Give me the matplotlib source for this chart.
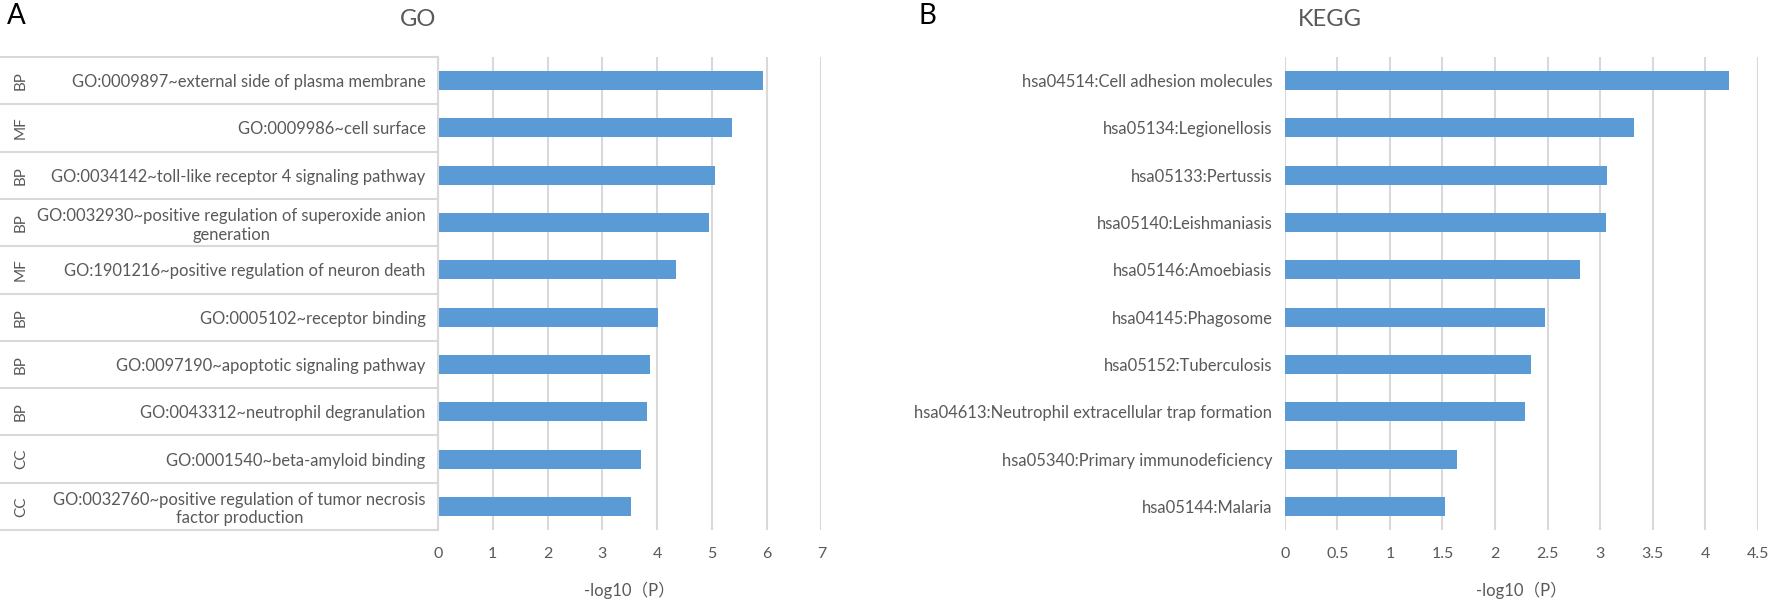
import matplotlib
matplotlib.use("Agg")
import matplotlib.pyplot as plt
from matplotlib.lines import Line2D
from matplotlib.transforms import blended_transform_factory

plt.rcParams["font.family"] = ["Lato", "Noto Sans CJK SC", "DejaVu Sans"]

# GO enrichment terms (top to bottom)
go_terms = [
    "GO:0009897~external side of plasma membrane",
    "GO:0009986~cell surface",
    "GO:0034142~toll-like receptor 4 signaling pathway",
    "GO:0032930~positive regulation of superoxide anion\ngeneration",
    "GO:1901216~positive regulation of neuron death",
    "GO:0005102~receptor binding",
    "GO:0097190~apoptotic signaling pathway",
    "GO:0043312~neutrophil degranulation",
    "GO:0001540~beta-amyloid binding",
    "GO:0032760~positive regulation of tumor necrosis\nfactor production",
]
go_groups = ["BP", "MF", "BP", "BP", "MF", "BP", "BP", "BP", "CC", "CC"]
go_values = [5.94, 5.37, 5.05, 4.95, 4.34, 4.01, 3.88, 3.82, 3.70, 3.53]
go_ticks = [0, 1, 2, 3, 4, 5, 6, 7]

# KEGG pathways (top to bottom)
kegg_terms = [
    "hsa04514:Cell adhesion molecules",
    "hsa05134:Legionellosis",
    "hsa05133:Pertussis",
    "hsa05140:Leishmaniasis",
    "hsa05146:Amoebiasis",
    "hsa04145:Phagosome",
    "hsa05152:Tuberculosis",
    "hsa04613:Neutrophil extracellular trap formation",
    "hsa05340:Primary immunodeficiency",
    "hsa05144:Malaria",
]
kegg_values = [4.23, 3.32, 3.07, 3.06, 2.81, 2.48, 2.34, 2.29, 1.64, 1.52]
kegg_ticks = [0, 0.5, 1, 1.5, 2, 2.5, 3, 3.5, 4, 4.5]
kegg_ticklabels = ["0", "0.5", "1", "1.5", "2", "2.5", "3", "3.5", "4", "4.5"]

_COLORS = {
    "bar": "#5B9BD5",
    "grid": "#D9D9D9",
    "text": "#595959",
}

W, H = 1769, 602
fig = plt.figure(figsize=(W / 100, H / 100), dpi=100, facecolor="white")


def _px_axes(x0, x1, y0, y1):
    """Axes placed by pixel edges (top-left origin)."""
    return fig.add_axes([x0 / W, 1 - y1 / H, (x1 - x0) / W, (y1 - y0) / H])


def _bar_panel(ax, terms, values, ticks, ticklabels, xmax):
    n = len(terms)
    ax.barh(range(n), values, height=0.4, color=_COLORS["bar"], zorder=3)
    ax.set_ylim(n - 0.5, -0.5)
    ax.set_xlim(0, xmax)
    ax.set_xticks(ticks)
    ax.set_xticklabels(ticklabels)
    ax.set_yticks(range(n))
    ax.set_yticklabels(terms, multialignment="center")
    for s in ax.spines.values():
        s.set_visible(False)
    ax.grid(True, axis="x", color=_COLORS["grid"], linewidth=1.5, zorder=0)
    ax.tick_params(axis="x", length=0, colors=_COLORS["text"], labelsize=11.5, pad=12)
    ax.tick_params(axis="y", length=0, colors=_COLORS["text"], labelsize=11.9, pad=9)
    ax.set_xlabel("-log10（P）", color=_COLORS["text"], fontsize=12)
    ax.xaxis.set_label_coords(0.5, -0.127)
    ax.xaxis.label.set_va("center")


ax_go = _px_axes(438, 821.3, 57, 530)
_bar_panel(ax_go, go_terms, go_values, go_ticks, [str(t) for t in go_ticks], 7)

ax_kegg = _px_axes(1284.8, 1757.7, 57, 530)
_bar_panel(ax_kegg, kegg_terms, kegg_values, kegg_ticks, kegg_ticklabels, 4.5)

# table lines and group column for GO
trans = blended_transform_factory(fig.transFigure, ax_go.transData)
for k in range(len(go_terms) + 1):
    fig.add_artist(Line2D([0, 438 / W], [k - 0.5, k - 0.5], transform=trans,
                          color=_COLORS["grid"], linewidth=1.5))
fig.add_artist(Line2D([438 / W, 438 / W], [-0.5, len(go_terms) - 0.5], transform=trans,
                      color=_COLORS["grid"], linewidth=1.5))
for i, g in enumerate(go_groups):
    ax_go.text(21 / W, i, g, transform=trans, rotation=90, ha="center", va="center",
               color=_COLORS["text"], fontsize=11, clip_on=False)

# titles and panel letters
fig.text(418 / W, 1 - 20 / H, "GO", ha="center", va="center", color=_COLORS["text"], fontsize=17)
fig.text(1330 / W, 1 - 20 / H, "KEGG", ha="center", va="center", color=_COLORS["text"], fontsize=17)
fig.text(16 / W, 1 - 16 / H, "A", ha="center", va="center", color="black", fontsize=20)
fig.text(927 / W, 1 - 16 / H, "B", ha="center", va="center", color="black", fontsize=20)

fig.savefig("out.png", dpi=100, facecolor="white")
